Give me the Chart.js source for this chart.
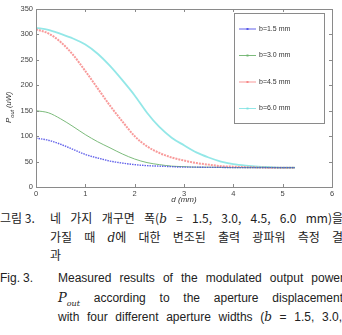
<!DOCTYPE html>
<html>
<head>
<meta charset="utf-8">
<script src="https://cdn.jsdelivr.net/npm/chart.js@4.4.0/dist/chart.umd.min.js"></script>
<style>
  html, body { margin: 0; padding: 0; background: #fff; width: 342px; height: 335px; overflow: hidden; }
  #wrap { position: relative; width: 342px; height: 206px; }
  .ln { position: absolute; height: 18px; line-height: 18px; white-space: nowrap; color: #222;
        text-align: justify; text-align-last: justify; }
  .ko { font-family: "Noto Sans CJK KR", sans-serif; font-size: 12px; }
  .en { font-family: "Liberation Sans", Arial, sans-serif; font-size: 12px; }
  .it { font-family: "DejaVu Serif", serif; font-style: italic; }
</style>
</head>
<body>
<div id="wrap"><canvas id="chartLine"></canvas></div>

<div class="ln ko" style="top:209px;left:0;text-align-last:left;">그림 3.</div>
<div class="ln ko" style="top:209px;left:50px;width:293px;white-space:normal;">네 가지 개구면 폭(<span class="it">b</span> = 1.5, 3.0, 4.5, 6.0 mm)을</div>
<div class="ln ko" style="top:228px;left:50px;width:293px;white-space:normal;">가질 때 <span class="it">d</span>에 대한 변조된 출력 광파워 측정 결</div>
<div class="ln ko" style="top:246px;left:50px;text-align-last:left;">과</div>

<div class="ln en" style="top:269px;left:0;text-align-last:left;">Fig.</div>
<div class="ln en" style="top:269px;left:23px;text-align-last:left;">3.</div>
<div class="ln en" style="top:269px;left:58px;width:286px;white-space:normal;">Measured results of the modulated output power</div>
<div class="ln en" style="top:289px;left:58px;width:285px;white-space:normal;"><span class="it" style="font-size:13px">P<sub style="font-size:8px">out</sub></span> according to the aperture displacement</div>
<div class="ln en" style="top:308px;left:58px;width:284px;white-space:normal;">with four different aperture widths (<span class="it">b</span> = 1.5, 3.0,</div>

<script>
const dValues = [0, 0.25, 0.5, 0.75, 1, 1.25, 1.5, 1.75, 2, 2.25, 2.5, 2.75, 3, 3.25, 3.5, 3.75, 4, 4.25, 4.5, 4.75, 5, 5.25];
const seriesLabels = ["b=1.5 mm", "b=3.0 mm", "b=4.5 mm", "b=6.0 mm"];
const pB15 = [96, 92, 84, 74, 64, 57, 51, 47, 44, 42, 41, 40, 39, 39, 38.5, 38.5, 38, 38, 38, 38, 38, 38];
const pB30 = [150, 146, 134, 119, 103, 89, 77, 65, 55, 48, 44, 41, 40, 39, 39, 38.5, 38, 38, 38, 38, 38, 38];
const pB45 = [310, 302, 285, 260, 228, 194, 160, 129, 100, 80, 67, 58, 52, 47, 44, 41, 40, 39, 38.5, 38, 38, 38];
const pB60 = [313, 309, 301, 292, 280, 262, 238, 210, 180, 146, 118, 97, 82, 68, 58, 50, 45, 42, 40, 39, 38, 38];
const xTicks = [0, 1, 2, 3, 4, 5, 6];
const yTicks = [0, 50, 100, 150, 200, 250, 300, 350];

const colors = ["rgba(70,70,230,0.85)", "rgba(110,180,110,0.9)", "rgba(245,100,100,0.65)", "rgba(120,225,225,0.8)"];
const widths = [1.4, 1, 2, 1.8];

function toPoints(arr) {
  return dValues.map((d, i) => ({ x: d, y: arr[i] }));
}

const dataLine = {
  datasets: [pB15, pB30, pB45, pB60].map((arr, i) => ({
    label: seriesLabels[i],
    data: toPoints(arr),
    borderColor: colors[i],
    borderWidth: widths[i],
    borderDash: i === 0 ? [1.5, 1] : (i === 2 ? [2, 1] : []),
    pointRadius: 0,
    cubicInterpolationMode: "monotone",
  })),
};

// MATLAB style frame, inward ticks, axis titles and boxed legend
const matlabFrame = {
  id: "matlabFrame",
  afterDraw(chart) {
    const ctx = chart.ctx;
    const a = chart.chartArea;
    const xs = chart.scales.x, ys = chart.scales.y;
    ctx.save();
    ctx.strokeStyle = "#8a8a8a";
    ctx.lineWidth = 1;
    ctx.strokeRect(Math.round(a.left) + 0.5, Math.round(a.top) + 0.5, Math.round(a.right - a.left), Math.round(a.bottom - a.top));
    ctx.beginPath();
    xTicks.forEach(v => {
      const px = Math.round(xs.getPixelForValue(v)) + 0.5;
      ctx.moveTo(px, a.bottom); ctx.lineTo(px, a.bottom - 3);
      ctx.moveTo(px, a.top); ctx.lineTo(px, a.top + 3);
    });
    yTicks.forEach(v => {
      const py = Math.round(ys.getPixelForValue(v)) + 0.5;
      ctx.moveTo(a.left, py); ctx.lineTo(a.left + 3, py);
      ctx.moveTo(a.right, py); ctx.lineTo(a.right - 3, py);
    });
    ctx.stroke();

    // axis titles
    ctx.fillStyle = "#333";
    ctx.font = "italic 8px 'Liberation Sans', Arial, sans-serif";
    ctx.textAlign = "center";
    ctx.textBaseline = "middle";
    ctx.fillText("d (mm)", (a.left + a.right) / 2, 200);

    ctx.translate(9, 101);
    ctx.rotate(-Math.PI / 2);
    ctx.textAlign = "left";
    ctx.font = "italic 8px 'Liberation Sans', Arial, sans-serif";
    let x0 = -22;
    ctx.fillText("P", x0, 0);
    x0 += ctx.measureText("P").width;
    ctx.font = "italic 5.5px 'Liberation Sans', Arial, sans-serif";
    ctx.fillText("out", x0, 3);
    x0 += ctx.measureText("out").width + 2;
    ctx.font = "italic 7.5px 'Liberation Sans', Arial, sans-serif";
    ctx.fillText("(uW)", x0, 0);
    ctx.restore();

    // legend box
    ctx.save();
    const lx = 234, ly = 13, lw = 90, lh = 110;
    ctx.fillStyle = "#fff";
    ctx.fillRect(lx, ly, lw, lh);
    ctx.strokeStyle = "#8a8a8a";
    ctx.strokeRect(lx + 0.5, ly + 0.5, lw, lh);
    ctx.font = "7px 'Liberation Sans', Arial, sans-serif";
    ctx.textBaseline = "middle";
    chart.data.datasets.forEach((ds, i) => {
      const y = ly + 16 + i * 26.5;
      ctx.strokeStyle = ds.borderColor;
      ctx.lineWidth = 1;
      ctx.beginPath();
      ctx.moveTo(lx + 5, y); ctx.lineTo(lx + 22, y);
      ctx.stroke();
      ctx.fillStyle = ds.borderColor;
      ctx.fillRect(lx + 12.5, y - 1, 2, 2);
      ctx.fillStyle = "#333";
      ctx.fillText(ds.label, lx + 25, y);
    });
    ctx.restore();
  },
};

const tickFont = { family: "'Liberation Sans', Arial, sans-serif", size: 7.5 };

const configLine = {
  type: "line",
  data: dataLine,
  options: {
    responsive: true,
    maintainAspectRatio: false,
    animation: false,
    layout: { padding: { top: 9, right: 10, left: 0, bottom: 0 } },
    plugins: { legend: { display: false }, tooltip: { enabled: false } },
    scales: {
      x: {
        type: "linear",
        min: 0,
        max: 6,
        afterBuildTicks: s => { s.ticks = xTicks.map(v => ({ value: v })); },
        afterFit: s => { s.height = 19; },
        grid: { display: false, drawTicks: false },
        border: { display: false },
        ticks: { font: tickFont, color: "#444", padding: 2, maxRotation: 0 },
      },
      y: {
        min: 0,
        max: 350,
        afterBuildTicks: s => { s.ticks = yTicks.map(v => ({ value: v })); },
        afterFit: s => { s.width = 36; },
        grid: { display: false, drawTicks: false },
        border: { display: false },
        ticks: { font: tickFont, color: "#444", padding: 3 },
      },
    },
  },
  plugins: [matlabFrame],
};

var chartLine = new Chart(document.getElementById("chartLine"), configLine);
</script>
</body>
</html>
